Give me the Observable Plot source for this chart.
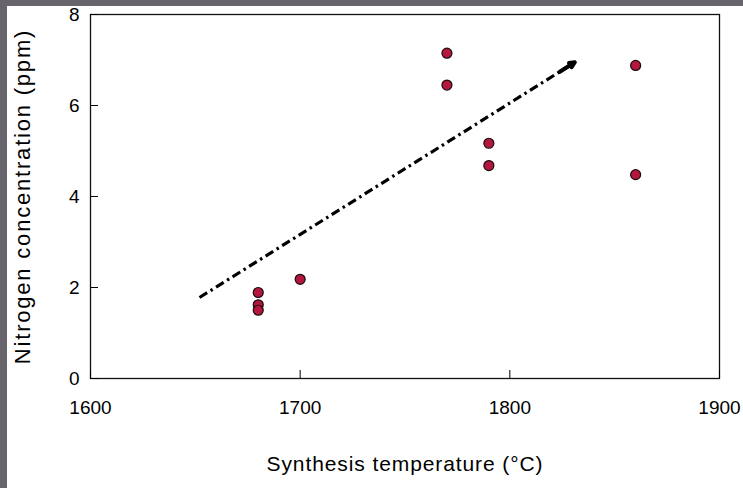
<!DOCTYPE html>
<html><head><meta charset="utf-8">
<script src="https://cdn.jsdelivr.net/npm/d3@7"></script>
<script src="https://cdn.jsdelivr.net/npm/@observablehq/plot@0.6"></script>
<style>
html,body{margin:0;padding:0;background:#fff;}
#wrap{position:relative;width:743px;height:488px;overflow:hidden;}
.strip{position:absolute;background:#67656b;}
</style>
</head><body>
<div id="wrap">
<div id="chart"></div>
<div class="strip" style="left:0;top:0;width:743px;height:6px"></div>
<div class="strip" style="left:0;top:0;width:7px;height:488px"></div>
</div>
<script>
// Data
const temperatures = [1680, 1680, 1680, 1700, 1770, 1770, 1790, 1790, 1860, 1860];
const nitrogen     = [1.89, 1.62, 1.50, 2.18, 7.15, 6.45, 5.17, 4.68, 6.88, 4.48];
const xTicks = [1600, 1700, 1800, 1900];
const yTicks = [0, 2, 4, 6, 8];
const trendStart = {x: 1652, y: 1.78};
const trendEnd   = {x: 1831, y: 6.95};

const points = temperatures.map((t, i) => ({t, n: nitrogen[i]}));
const trend = [{x1: trendStart.x, y1: trendStart.y, x2: trendEnd.x, y2: trendEnd.y}];
// the arrow head: last short segment of the trend line
const frac = 0.96;
const head = [{
  x1: trendStart.x + (trendEnd.x - trendStart.x) * frac,
  y1: trendStart.y + (trendEnd.y - trendStart.y) * frac,
  x2: trendEnd.x, y2: trendEnd.y
}];

const font = "'Liberation Sans', Arial, Helvetica, sans-serif";

const chart = Plot.plot({
  width: 743,
  height: 488,
  marginLeft: 90,
  marginRight: 24,
  marginTop: 14,
  marginBottom: 110,
  style: {fontFamily: font, background: "transparent", color: "#000"},
  x: {domain: [1600, 1900]},
  y: {domain: [0, 8]},
  marks: [
    Plot.frame({stroke: "#111", strokeWidth: 1.3}),
    Plot.axisX(xTicks, {tickSize: -8, tickPadding: 30, fontSize: 19, label: null, tickFormat: "d"}),
    Plot.axisY(yTicks, {tickSize: -8, tickPadding: 19, fontSize: 19, label: null, tickFormat: "d"}),
    Plot.link(trend, {x1: "x1", y1: "y1", x2: "x2", y2: "y2", stroke: "#000", strokeWidth: 3.2, strokeDasharray: "9,4,2.5,4"}),
    Plot.arrow(head, {x1: "x1", y1: "y1", x2: "x2", y2: "y2", stroke: "#000", strokeWidth: 4, headLength: 12, headAngle: 50}),
    Plot.dot(points, {x: "t", y: "n", r: 5, fill: "#b3173d", stroke: "#1a0a0d", strokeWidth: 1.2}),
    Plot.text(["Synthesis temperature (°C)"], {frameAnchor: "bottom", textAnchor: "middle", dy: 92, fontSize: 21, fill: "#000"}),
    Plot.text(["Nitrogen concentration (ppm)"], {frameAnchor: "left", textAnchor: "middle", dx: -68, rotate: -90, fontSize: 22, fill: "#000"})
  ]
});
document.getElementById("chart").appendChild(chart);
chart.querySelectorAll("text").forEach(t => {
  if (t.textContent === "Nitrogen concentration (ppm)") t.style.letterSpacing = "1.8px";
  if (t.textContent === "Synthesis temperature (°C)") t.style.letterSpacing = "0.9px";
});
</script>
</body></html>
